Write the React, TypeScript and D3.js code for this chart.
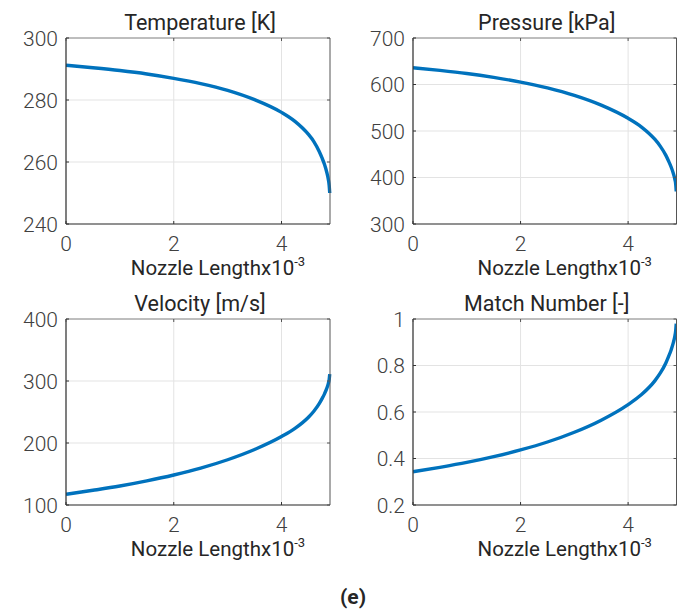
import React from "react";
import * as d3 from "d3";

const nozzleX = [0, 0.5, 1.0, 1.5, 2.0, 2.5, 3.0, 3.5, 4.0, 4.25, 4.5, 4.6, 4.7, 4.75, 4.8, 4.84, 4.87, 4.885, 4.895];
const temperature = [291.2, 290.4, 289.5, 288.4, 287.0, 285.3, 283.1, 280.1, 276.0, 273.1, 268.9, 266.6, 263.4, 261.4, 259.1, 256.7, 254.3, 252.4, 250.0];
const pressure = [636.1, 630.3, 623.6, 615.2, 605.2, 592.7, 576.6, 555.6, 527.3, 508.5, 481.8, 467.0, 448.1, 436.0, 422.6, 409.3, 396.1, 386.0, 370.0];
const velocity = [117.3, 123.7, 130.6, 138.9, 148.4, 159.5, 173.0, 189.5, 210.4, 223.6, 241.6, 251.3, 263.5, 271.2, 279.7, 288.1, 296.3, 302.5, 311.0];
const mach = [0.343, 0.362, 0.383, 0.408, 0.437, 0.471, 0.513, 0.565, 0.632, 0.675, 0.735, 0.768, 0.81, 0.837, 0.867, 0.897, 0.927, 0.95, 0.98];

const titles = ["Temperature [K]", "Pressure [kPa]", "Velocity [m/s]", "Match Number [-]"];
const yDomains: [number, number][] = [[240, 300], [300, 700], [100, 400], [0.2, 1]];
const yTicks = [[240, 260, 280, 300], [300, 400, 500, 600, 700], [100, 200, 300, 400], [0.2, 0.4, 0.6, 0.8, 1]];
const xTicks = [0, 2, 4];
const xDomain: [number, number] = [0, 4.9];
const xLabel = "Nozzle Length";
const caption = "(e)";

const series = [temperature, pressure, velocity, mach];

const boxes = [
  { x0: 66, x1: 330, y0: 38, y1: 224 },
  { x0: 413, x1: 676.5, y0: 38, y1: 224 },
  { x0: 66, x1: 330, y0: 319, y1: 505 },
  { x0: 413, x1: 676.5, y0: 319, y1: 505 },
];

const FONT = "Roboto, 'Noto Sans', sans-serif";

function Panel({ i }: { i: number }) {
  const b = boxes[i];
  const x = d3.scaleLinear().domain(xDomain).range([b.x0, b.x1]);
  const y = d3.scaleLinear().domain(yDomains[i]).range([b.y1, b.y0]);
  const data = nozzleX.map((v, k) => [v, series[i][k]] as [number, number]);
  const line = d3
    .line<[number, number]>()
    .x((d) => x(d[0]))
    .y((d) => y(d[1]))
    .curve(d3.curveMonotoneX);
  const fmt = (v: number) => (i === 3 ? (v === 1 ? "1" : v.toFixed(1)) : String(v));
  const cx = (b.x0 + b.x1) / 2;
  return (
    <g>
      <defs>
        <clipPath id={`clip${i}`}>
          <rect x={b.x0} y={b.y0 - 2} width={b.x1 - b.x0 + 2} height={b.y1 - b.y0 + 4} />
        </clipPath>
      </defs>
      {yTicks[i].map((t) => (
        <line key={"gy" + t} x1={b.x0} x2={b.x1} y1={y(t)} y2={y(t)} stroke="#e3e3e3" strokeWidth={1} />
      ))}
      {xTicks.map((t) => (
        <line key={"gx" + t} x1={x(t)} x2={x(t)} y1={b.y0} y2={b.y1} stroke="#e3e3e3" strokeWidth={1} />
      ))}
      <path d={line(data) || ""} fill="none" stroke="#0072BD" strokeWidth={3.4} clipPath={`url(#clip${i})`} />
      <line x1={b.x0} x2={b.x1} y1={b.y0} y2={b.y0} stroke="#8a8a8a" strokeWidth={1} />
      <line x1={b.x1} x2={b.x1} y1={b.y0} y2={b.y1} stroke="#555" strokeWidth={1} />
      <line x1={b.x0} x2={b.x0} y1={b.y0} y2={b.y1} stroke="#333" strokeWidth={1.2} />
      <line x1={b.x0} x2={b.x1} y1={b.y1} y2={b.y1} stroke="#333" strokeWidth={1.2} />
      {xTicks.map((t) => (
        <g key={"tx" + t}>
          <line x1={x(t)} x2={x(t)} y1={b.y1} y2={b.y1 - 3} stroke="#333" />
          <line x1={x(t)} x2={x(t)} y1={b.y0} y2={b.y0 + 3} stroke="#555" />
          <text x={x(t)} y={b.y1 + 27} textAnchor="middle" fontSize={21} fontWeight={300} fill="#404040" fontFamily={FONT}>
            {t}
          </text>
        </g>
      ))}
      {yTicks[i].map((t) => (
        <g key={"ty" + t}>
          <line x1={b.x0} x2={b.x0 + 3} y1={y(t)} y2={y(t)} stroke="#333" />
          <line x1={b.x1} x2={b.x1 - 3} y1={y(t)} y2={y(t)} stroke="#555" />
          <text x={b.x0 - 8} y={y(t)} dy="0.36em" textAnchor="end" fontSize={21} fontWeight={300} fill="#404040" fontFamily={FONT}>
            {fmt(t)}
          </text>
        </g>
      ))}
      <text x={cx + 2} y={b.y0 - 8} textAnchor="middle" fontSize={21.5} fill="#262626" fontFamily={FONT}>
        {titles[i]}
      </text>
      <text x={cx + 20} y={b.y1 + 51} textAnchor="middle" fontSize={20.5} fill="#262626" fontFamily={FONT}>
        {xLabel}x10
        <tspan fontSize={13} dy={-9}>-3</tspan>
      </text>
    </g>
  );
}

export default function App() {
  return (
    <svg
      width={677}
      height={616}
      style={{ position: "absolute", left: 0, top: 0, background: "#fff" }}
    >
      <rect width={677} height={616} fill="#fff" />
      {[0, 1, 2, 3].map((i) => (
        <Panel key={i} i={i} />
      ))}
      <text x={353} y={604} textAnchor="middle" fontSize={21} fontWeight="bold" fill="#262626" fontFamily={FONT}>
        {caption}
      </text>
    </svg>
  );
}
